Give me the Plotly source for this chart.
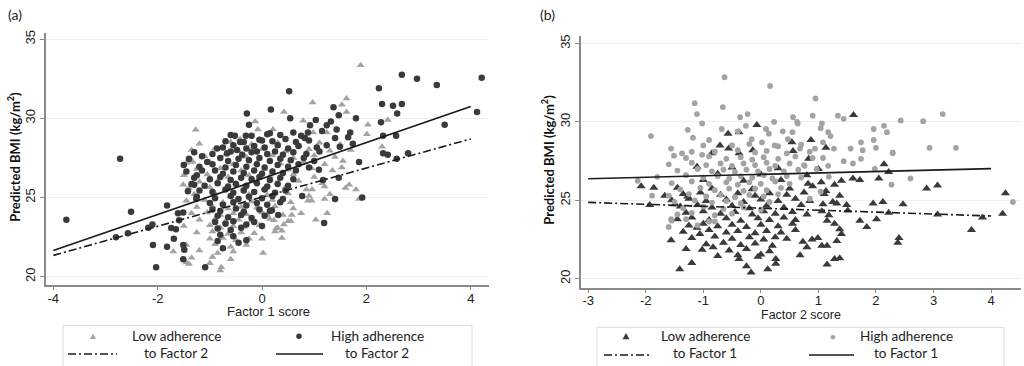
import plotly.graph_objects as go

# ---------------- DATA ----------------
# Panel (a): x = Factor 1 score, y = predicted BMI
a_low = [  # low adherence to Factor 2 (grey triangles)
    (1.89,33.35),(-1.27,29.27),(-0.13,29.8),(0.42,30.4),(0.97,31.0),(1.62,31.25),(1.62,30.4),(1.53,30.85),
    (2.03,29.6),(2.01,29.0),(2.41,29.9),(2.3,28.2),(-1.33,27.25),(0.79,29.85),(0.21,29.3),(0.98,29.1),
    (1.24,29.1),(-0.08,29.3),(-0.42,28.7),(-0.19,28.1),(1.67,25.8),(1.8,25.5),(1.86,24.9),(1.25,24.0),
    (1.03,23.6),(1.2,24.9),(0.88,24.8),(0.57,23.9),(0.55,23.5),(0.42,23.3),(0.38,22.9),(0.38,22.45),
    (0.27,23.05),(0.23,23.56),(0.1,23.9),(0.02,21.5),(0.0,22.4),(1.2,25.7),(0.96,25.5),(1.53,26.9),
    (1.55,27.3),(-1.51,25.8),(-1.34,27.3),(-1.45,20.9),
    (-1.2,28.4),(-0.6,28.5),(-0.2,28.35),(0.3,28.45),(0.7,28.3),(1.1,28.45),(1.5,28.35),
    (-1.35,28.0),(-0.9,28.1),(-0.45,27.95),(0.0,28.05),(0.45,27.9),(0.9,28.05),(1.3,27.95),(1.7,28.0),
    (-1.1,27.6),(-0.7,27.7),(-0.3,27.55),(0.2,27.65),(0.6,27.5),(1.0,27.65),(1.4,27.55),
    (-1.45,27.2),(-1.0,27.25),(-0.55,27.1),(-0.1,27.2),(0.35,27.15),(0.8,27.25),(1.2,27.1),
    (-1.25,26.8),(-0.8,26.85),(-0.4,26.7),(0.05,26.8),(0.5,26.75),(0.95,26.85),(1.35,26.7),
    (-1.5,26.4),(-1.05,26.45),(-0.65,26.3),(-0.25,26.4),(0.15,26.35),(0.6,26.45),(1.0,26.3),
    (-1.2,26.0),(-0.85,26.05),(-0.5,25.9),(-0.1,26.0),(0.3,25.95),(0.7,26.05),(1.15,25.9),
    (-1.4,25.6),(-1.0,25.65),(-0.7,25.5),(-0.35,25.6),(0.05,25.55),(0.45,25.65),(0.85,25.5),(1.6,25.6),
    (-1.3,25.2),(-0.9,25.25),(-0.6,25.1),(-0.25,25.2),(0.1,25.15),(0.5,25.25),(0.9,25.1),(1.3,25.2),
    (-1.45,24.8),(-1.1,24.85),(-0.75,24.7),(-0.5,24.8),(-0.2,24.75),(0.2,24.85),(0.55,24.7),(0.95,24.8),
    (-1.25,24.4),(-0.95,24.45),(-0.65,24.3),(-0.4,24.4),(-0.1,24.35),(0.25,24.45),(0.6,24.3),
    (-1.35,24.0),(-1.05,24.05),(-0.8,23.9),(-0.55,24.0),(-0.3,23.95),(0.0,24.05),(0.4,23.9),(0.75,24.0),
    (-1.2,23.6),(-0.9,23.65),(-0.7,23.5),(-0.45,23.6),(-0.2,23.55),(0.15,23.65),(0.5,23.5),
    (-1.5,23.2),(-1.0,23.25),(-0.8,23.1),(-0.55,23.2),(-0.35,23.15),(-0.05,23.25),(0.3,23.1),
    (-1.25,22.8),(-0.95,22.85),(-0.65,22.7),(-0.4,22.8),(-0.15,22.75),(0.25,22.85),
    (-1.0,22.4),(-0.75,22.45),(-0.5,22.3),(-0.25,22.4),
    (-1.45,22.0),(-0.9,22.05),(-0.6,21.9),(-0.3,22.0),
    (-1.7,21.6),(-1.2,21.65),(-0.85,21.5),(-0.55,21.6),
    (-1.35,21.2),(-0.95,21.25),(-0.6,21.1),
    (-1.4,20.8),(-1.0,20.85),
    (-0.8,20.4),(-0.78,20.6),
]
a_high = [  # high adherence to Factor 2 (dark circles)
    (-3.75,23.6),(-2.72,27.44),(-2.51,24.1),(-2.8,22.5),(-2.57,22.75),(-2.18,23.1),(-2.1,23.3),(-2.09,22.0),
    (-2.03,20.6),(-1.82,24.5),(-1.82,21.9),(-1.74,23.07),(-1.65,23.0),(-1.69,22.4),(-1.61,24.0),(-1.59,23.56),
    (-1.51,24.06),(-1.51,22.0),(-1.49,21.7),(-1.51,21.1),(-1.42,25.4),(-1.3,25.8),(-1.26,24.9),(-1.09,20.6),
    (-1.15,26.7),(-1.25,26.4),(-1.05,27.25),
    (0.52,31.7),(0.17,30.55),(1.37,30.7),(1.47,30.2),(1.8,30.0),(0.54,30.0),(1.03,29.9),(0.92,29.56),
    (1.32,29.8),(1.24,29.56),(1.43,29.3),(1.15,29.2),(1.4,28.75),(1.65,28.8),(1.69,29.1),(0.88,29.1),
    (0.82,28.75),(1.74,28.4),(1.49,28.2),(1.24,28.3),(2.32,28.9),(2.57,28.9),(2.28,29.75),(2.8,27.8),
    (2.58,27.44),(2.41,27.7),(2.32,27.8),(3.5,29.6),(4.12,30.4),(4.21,32.56),(3.35,32.1),(2.97,32.5),
    (2.68,32.75),(2.24,31.9),(2.3,30.9),(2.51,30.8),(2.68,30.9),(2.59,30.3),(1.86,27.25),(1.47,26.25),
    (1.17,26.1),(1.09,26.75),(0.77,25.1),(0.31,23.9),(0.19,24.2),(0.0,23.2),(1.4,24.9),(1.92,25.0),
    (1.19,23.4),
    (-0.29,30.3),(-0.25,29.6),(-0.52,28.9),(-0.31,28.9),(0.1,29.0),(0.0,28.6),(-0.42,28.5),(-0.86,28.1),
    (-0.67,27.8),(-1.15,27.6),(-0.48,28.0),(-0.38,27.7),(-0.1,27.9),
    (-0.6,28.95),(-0.2,28.9),(0.15,29.05),(0.35,28.95),(0.6,29.1),(0.75,28.9),
    (-0.7,28.55),(-0.35,28.5),(-0.05,28.65),(0.2,28.55),(0.45,28.7),(0.65,28.5),(0.9,28.6),
    (-0.75,28.15),(-0.55,28.3),(-0.3,28.1),(-0.15,28.25),(0.05,28.15),(0.3,28.3),(0.5,28.1),(0.7,28.25),(1.05,28.15),
    (-1.3,27.85),(-0.95,27.75),(-0.6,27.9),(-0.2,27.85),(0.1,27.75),(0.25,27.9),(0.4,27.7),(0.6,27.85),(0.85,27.75),(1.1,27.9),
    (-1.4,27.45),(-0.8,27.5),(-0.65,27.3),(-0.45,27.45),(-0.25,27.35),(-0.05,27.5),(0.15,27.3),(0.35,27.45),(0.55,27.35),(0.8,27.5),(1.0,27.3),
    (-1.5,27.05),(-1.2,26.95),(-0.95,27.1),(-0.7,26.9),(-0.5,27.05),(-0.3,26.95),(-0.1,27.1),(0.05,26.9),(0.3,27.05),(0.5,26.95),(0.7,27.1),(0.9,26.9),
    (-1.45,26.65),(-0.9,26.7),(-0.75,26.5),(-0.55,26.65),(-0.35,26.55),(-0.15,26.7),(0.0,26.5),(0.2,26.65),(0.4,26.55),(0.65,26.7),
    (-1.3,26.25),(-1.0,26.15),(-0.8,26.3),(-0.6,26.1),(-0.4,26.25),(-0.2,26.15),(-0.05,26.3),(0.15,26.1),(0.35,26.25),(0.6,26.15),
    (-1.35,25.85),(-1.1,25.75),(-0.85,25.9),(-0.65,25.7),(-0.5,25.85),(-0.3,25.75),(-0.1,25.9),(0.1,25.7),(0.3,25.85),(0.5,25.75),
    (-1.2,25.45),(-0.95,25.35),(-0.7,25.5),(-0.55,25.3),(-0.35,25.45),(-0.15,25.35),(0.05,25.5),(0.25,25.3),(0.45,25.45),
    (-1.25,25.05),(-0.9,24.95),(-0.6,25.1),(-0.45,24.9),(-0.25,25.05),(0.0,24.95),(0.2,25.1),(0.4,24.9),
    (-1.0,24.65),(-0.75,24.55),(-0.55,24.7),(-0.3,24.5),(-0.1,24.65),(0.1,24.55),(0.35,24.7),
    (-0.95,24.25),(-0.8,24.15),(-0.5,24.3),(-0.35,24.1),(-0.05,24.25),(0.15,24.15),
    (-0.85,23.85),(-0.65,23.75),(-0.4,23.9),(-0.2,23.7),(0.05,23.85),
    (-0.9,23.45),(-0.7,23.35),(-0.55,23.5),(-0.3,23.3),(-0.15,23.45),
    (-0.85,23.05),(-0.6,22.95),(-0.4,23.1),
    (-0.8,22.65),(-0.55,22.55),
    (-0.85,22.25),(-0.45,22.15),(-0.3,22.3),
    (-0.75,21.8),
]
a_fit_x = [-4, 4]
a_fit_high = [21.65, 30.75]   # solid
a_fit_low = [21.35, 28.7]     # dash-dot

# Panel (b): x = Factor 2 score
b_low = [  # low adherence to Factor 1 (dark triangles)
    (-0.07,29.8),(-0.57,29.25),(-0.38,29.35),(-0.71,28.5),(-0.56,28.3),(-0.85,28.0),(-0.38,28.0),(-0.14,28.2),
    (0.56,28.15),(0.54,28.7),(1.61,30.45),(0.87,28.85),(1.13,28.35),
    (2.14,27.3),(2.22,26.8),(2.05,26.4),(1.6,26.4),(1.72,26.3),(2.88,25.75),(3.07,25.95),(4.25,25.45),
    (1.28,26.0),(1.13,25.6),(1.37,25.3),(1.25,24.9),(1.32,24.8),(1.49,24.7),(1.51,24.35),(1.95,24.8),
    (2.12,24.9),(2.47,24.75),(2.22,24.2),(3.07,24.1),(3.85,23.9),(4.2,24.15),(3.66,23.1),(1.72,23.7),
    (2.01,23.8),(1.84,23.3),(2.4,22.6),(2.38,22.3),(1.08,24.75),(1.06,24.3),(1.18,24.05),(1.15,23.7),
    (1.28,23.5),(1.37,23.15),(1.4,22.85),(1.32,22.4),(1.15,22.1),(1.06,22.1),(0.99,22.6),(0.89,22.5),
    (0.8,22.0),(0.73,22.35),(0.68,21.5),(1.28,21.25),(1.37,21.3),(1.15,20.9),(0.82,26.05),(0.83,27.65),
    (-2.08,25.9),(-1.86,25.8),(-1.67,25.3),(-1.93,24.7),(-1.11,27.15),(-1.56,22.45),(-1.41,20.6),(-1.3,21.9),
    (-1.2,21.0),(-1.02,21.85),(-0.83,22.0),(-0.75,21.45),(-0.38,21.25),(-0.25,20.8),(-0.17,20.4),(0.12,20.6),
    (-0.05,21.4),(0.26,21.25),(0.26,20.95),(-1.11,23.25),(-1.06,22.85),(-1.49,24.75),(-1.27,25.25),
    (-0.5,27.1),(0.3,27.05),(1.0,27.0),
    (-0.75,26.7),(0.0,26.65),(0.8,26.6),
    (-1.0,26.3),(-0.3,26.25),(0.35,26.3),(1.05,26.15),(1.4,26.25),
    (-1.45,25.8),(-0.85,25.75),(-0.15,25.7),(0.5,25.75),(0.9,25.9),
    (-1.35,25.4),(-1.05,25.5),(-0.7,25.35),(-0.4,25.45),(-0.1,25.3),(0.15,25.45),(0.45,25.35),(0.75,25.5),(1.1,25.4),
    (-1.55,25.0),(-1.25,25.1),(-0.95,24.95),(-0.6,25.05),(-0.3,24.9),(0.0,25.05),(0.3,24.95),(0.6,25.1),(0.85,24.95),
    (-1.4,24.6),(-1.1,24.7),(-0.85,24.55),(-0.5,24.65),(-0.2,24.5),(0.1,24.65),(0.4,24.55),(0.7,24.7),
    (-1.3,24.2),(-1.0,24.3),(-0.7,24.15),(-0.45,24.25),(-0.15,24.1),(0.05,24.3),(0.25,24.15),(0.55,24.25),(0.8,24.1),
    (-1.45,23.8),(-1.2,23.9),(-0.9,23.75),(-0.6,23.85),(-0.35,23.7),(-0.05,23.85),(0.15,23.75),(0.4,23.9),(0.6,23.75),
    (-1.25,23.4),(-1.0,23.5),(-0.75,23.35),(-0.5,23.45),(-0.25,23.3),(0.0,23.45),(0.3,23.35),(0.55,23.5),
    (-1.35,23.0),(-0.9,23.1),(-0.6,22.95),(-0.4,23.05),(-0.1,22.9),(0.1,23.05),(0.35,22.95),(0.6,23.1),
    (-1.2,22.6),(-0.8,22.7),(-0.5,22.55),(-0.2,22.65),(0.05,22.5),(0.25,22.65),(0.45,22.55),
    (-0.95,22.2),(-0.65,22.3),(-0.35,22.15),(-0.1,22.25),(0.2,22.1),
    (-0.55,21.8),(-0.25,21.9),(0.15,21.75),
    (-0.4,21.5),(0.0,21.55),
]
b_high = [  # high adherence to Factor 1 (grey circles)
    (-0.63,32.85),(0.16,32.3),(-1.91,29.1),(-1.15,31.2),(-1.11,30.5),(-1.02,29.9),(-0.66,30.95),(-0.36,30.3),
    (-0.23,30.5),(0.23,30.0),(-1.27,29.5),(-1.18,29.0),(-0.68,29.55),(-0.4,29.4),(-0.26,29.75),(0.09,29.55),
    (0.14,29.25),(0.38,29.4),(0.56,30.3),(0.63,30.0),(-1.56,28.3),(-1.51,27.85),(-1.37,28.0),(-1.2,28.1),
    (-1.0,28.5),(-0.9,28.85),(-1.02,27.9),(-0.16,28.9),(0.02,28.7),(0.24,28.5),(0.47,28.9),
    (0.95,31.5),(0.9,30.4),(1.34,30.4),(1.44,30.2),(2.43,30.1),(2.82,30.05),(3.16,30.5),(1.96,29.55),
    (2.14,29.75),(2.19,29.35),(1.96,28.85),(2.0,28.35),(1.74,28.7),(1.77,28.2),(1.56,28.3),(2.29,28.05),
    (2.93,28.35),(3.39,28.35),(1.06,29.9),(1.04,29.6),(1.17,29.35),(1.21,29.1),(1.27,28.3),(1.08,28.7),
    (0.64,29.9),(0.55,29.35),(0.94,28.3),(0.68,28.3),
    (4.38,24.9),(2.6,26.4),(2.27,26.0),(2.29,28.0),(1.74,27.65),(1.6,27.35),(1.44,27.5),(1.98,27.0),
    (1.17,27.2),(1.18,26.5),(1.04,25.55),(0.85,25.1),(1.08,27.7),(0.76,27.2),(0.97,27.0),
    (-1.89,25.3),(-1.56,23.8),(-0.8,23.65),(-2.14,26.25),
    (-0.5,28.5),(-0.2,28.6),(0.3,28.45),(0.7,28.55),
    (-0.8,28.1),(-0.4,28.2),(-0.1,28.05),(0.1,28.15),(0.45,28.0),(0.85,28.1),
    (-1.3,27.7),(-0.9,27.8),(-0.6,27.65),(-0.35,27.75),(-0.15,27.6),(0.05,27.75),(0.3,27.65),(0.6,27.8),(0.9,27.7),
    (-1.6,27.3),(-1.2,27.4),(-0.95,27.25),(-0.7,27.35),(-0.5,27.2),(-0.3,27.35),(-0.1,27.25),(0.1,27.4),(0.25,27.2),(0.5,27.35),(0.75,27.25),
    (-1.45,26.9),(-1.1,27.0),(-0.85,26.85),(-0.65,26.95),(-0.45,26.8),(-0.25,26.95),(-0.05,26.85),(0.15,27.0),(0.4,26.85),(0.65,26.95),
    (-1.8,26.5),(-1.3,26.6),(-1.0,26.45),(-0.75,26.55),(-0.55,26.4),(-0.35,26.55),(-0.15,26.45),(0.05,26.6),(0.2,26.4),(0.45,26.55),(0.7,26.45),
    (-1.55,26.1),(-1.2,26.2),(-0.9,26.05),(-0.6,26.15),(-0.4,26.0),(-0.2,26.15),(0.0,26.05),(0.25,26.2),(0.5,26.05),
    (-1.4,25.7),(-1.05,25.8),(-0.8,25.65),(-0.55,25.75),(-0.3,25.6),(-0.1,25.75),(0.1,25.65),(0.35,25.8),
    (-1.6,25.3),(-1.25,25.4),(-0.95,25.25),(-0.7,25.35),(-0.45,25.2),(-0.2,25.35),(0.05,25.25),(0.3,25.4),
    (-1.5,24.9),(-1.15,25.0),(-0.85,24.85),(-0.6,24.95),(-0.35,24.8),(0.15,24.9),
    (-1.35,24.5),(-1.0,24.6),(-0.65,24.45),(-0.3,24.55),(0.0,24.4),
    (-1.45,24.1),(-1.2,24.2),(-0.8,24.05),(-0.5,24.15),
    (-1.55,23.7),(-1.3,23.8),(-0.9,23.65),
    (-1.6,23.3),(-1.1,23.4),
]
b_fit_x = [-3, 4]
b_fit_high = [26.38, 27.02]   # solid
b_fit_low = [24.87, 24.0]     # dash-dot

a_xticks = [-4, -2, 0, 2, 4]
b_xticks = [-3, -2, -1, 0, 1, 2, 3, 4]
yticks = [20, 25, 30, 35]

# ---------------- STYLE ----------------
W, H = 1024, 366
DARK = "#3a3a3a"
GREY = "#a3a3a3"
AXC = "#8a8a8a"
DASHDOT = "8px,3px,2px,3px"
TICKFONT = dict(family="Liberation Sans, Arial", size=13, color="#222")
LABFONT = dict(family="Lato, Open Sans", size=13.5, color="#222")


def px(x):
    return x / W


def py(y):
    return 1 - y / H


fig = go.Figure()

def scatter(data, xa, ya, symbol, size, color):
    fig.add_trace(go.Scatter(
        x=[p[0] for p in data], y=[p[1] for p in data], mode="markers",
        marker=dict(symbol=symbol, size=size, color=color, line=dict(width=0)),
        xaxis=xa, yaxis=ya, showlegend=False, hoverinfo="skip"))

def line(xs, ys, xa, ya, dash):
    fig.add_trace(go.Scatter(
        x=xs, y=ys, mode="lines", line=dict(color="#1a1a1a", width=1.6, dash=dash),
        xaxis=xa, yaxis=ya, showlegend=False, hoverinfo="skip"))

# panel a
scatter(a_low, "x", "y", "triangle-up", 7, GREY)
scatter(a_high, "x", "y", "circle", 6.5, DARK)
line(a_fit_x, a_fit_low, "x", "y", DASHDOT)
line(a_fit_x, a_fit_high, "x", "y", "solid")
# panel b
scatter(b_low, "x2", "y2", "triangle-up", 8, DARK)
scatter(b_high, "x2", "y2", "circle", 5.8, GREY)
line(b_fit_x, b_fit_low, "x2", "y2", DASHDOT)
line(b_fit_x, b_fit_high, "x2", "y2", "solid")

axis_common = dict(showline=True, linecolor=AXC, linewidth=1.5, ticks="outside",
                   ticklen=4, tickwidth=1.2, tickcolor=AXC, tickfont=TICKFONT,
                   zeroline=False)

fig.update_layout(
    width=W, height=H, margin=dict(l=0, r=0, t=0, b=0),
    paper_bgcolor="white", plot_bgcolor="white",
    xaxis=dict(domain=[px(46), px(489)], range=[-4.14, 4.35], anchor="y",
               tickvals=a_xticks, ticktext=[str(v) for v in a_xticks],
               ticklabelstandoff=-3, showgrid=False, **axis_common),
    yaxis=dict(domain=[py(284), py(30)], range=[19.5, 35.4], anchor="x",
               tickvals=yticks, ticktext=[str(v) for v in yticks], tickangle=-90,
               showgrid=True, gridcolor="#efefef", gridwidth=1, **axis_common),
    xaxis2=dict(domain=[px(581), px(1021)], range=[-3.125, 4.52], anchor="y2",
                tickvals=b_xticks, ticktext=[str(v) for v in b_xticks],
                ticklabelstandoff=-4, showgrid=False, **axis_common),
    yaxis2=dict(domain=[py(287), py(33)], range=[19.43, 35.5], anchor="x2",
                tickvals=yticks, ticktext=[str(v) for v in yticks], tickangle=-90,
                showgrid=True, gridcolor="#efefef", gridwidth=1, **axis_common),
)

ann = []
def text(x, y, s, font, angle=0):
    ann.append(dict(x=px(x), y=py(y), xref="paper", yref="paper", text=s,
                    showarrow=False, font=font, textangle=angle,
                    xanchor="center", yanchor="middle"))

text(15, 12, "(a)", dict(family="Lato", size=14, color="#222"))
text(547, 12, "(b)", dict(family="Lato", size=14, color="#222"))
ybold = dict(family="Lato", size=13, color="#111")
text(14, 155, "<b>Predicted BMI (kg/m<sup>2</sup>)</b>", ybold, -90)
text(548, 158, "<b>Predicted BMI (kg/m<sup>2</sup>)</b>", ybold, -90)
xt = dict(family="Liberation Sans, Arial", size=13, color="#222")
text(268, 311, "Factor 1 score", xt)
text(801, 315, "Factor 2 score", dict(family="Liberation Sans, Arial", size=12.5, color="#222"))
# legend texts
text(176, 336, "Low adherence", LABFONT)
text(176, 353, "to Factor 2", LABFONT)
text(377, 336, "High adherence", LABFONT)
text(377, 353, "to Factor 2", LABFONT)
text(705, 336, "Low adherence", LABFONT)
text(705, 353, "to Factor 1", LABFONT)
text(906, 336, "High adherence", LABFONT)
text(906, 353, "to Factor 1", LABFONT)

shapes = []
def box(x0, x1, y0):
    shapes.append(dict(type="rect", xref="paper", yref="paper", x0=px(x0), x1=px(x1),
                       y0=py(y0), y1=py(372), line=dict(color="#dcdcdc", width=1)))

def tri(cx, cy, s, color):
    h = s * 0.9
    path = (f"M {px(cx - s/2)},{py(cy + h/2)} L {px(cx + s/2)},{py(cy + h/2)} "
            f"L {px(cx)},{py(cy - h/2)} Z")
    shapes.append(dict(type="path", xref="paper", yref="paper", path=path,
                       fillcolor=color, line=dict(width=0)))

def dot(cx, cy, r, color):
    shapes.append(dict(type="circle", xref="paper", yref="paper",
                       x0=px(cx - r), x1=px(cx + r), y0=py(cy + r), y1=py(cy - r),
                       fillcolor=color, line=dict(width=0)))

def seg(x0, x1, y, dash):
    shapes.append(dict(type="line", xref="paper", yref="paper", x0=px(x0), x1=px(x1),
                       y0=py(y), y1=py(y), line=dict(color="#1a1a1a", width=1.5, dash=dash)))

box(63, 472, 325)
box(597, 1004, 327)
tri(93, 336, 6, GREY)
dot(299, 336, 2.8, DARK)
seg(68, 117, 354, DASHDOT)
seg(276, 323, 354, "solid")
tri(626, 336, 7, DARK)
dot(833, 337, 2.3, GREY)
seg(604, 651, 355, DASHDOT)
seg(809, 854, 355, "solid")

fig.update_layout(annotations=ann, shapes=shapes)
fig.write_html("out.html", config={"displayModeBar": False},
               post_script="document.body.style.margin='0';document.body.style.overflow='hidden';")
